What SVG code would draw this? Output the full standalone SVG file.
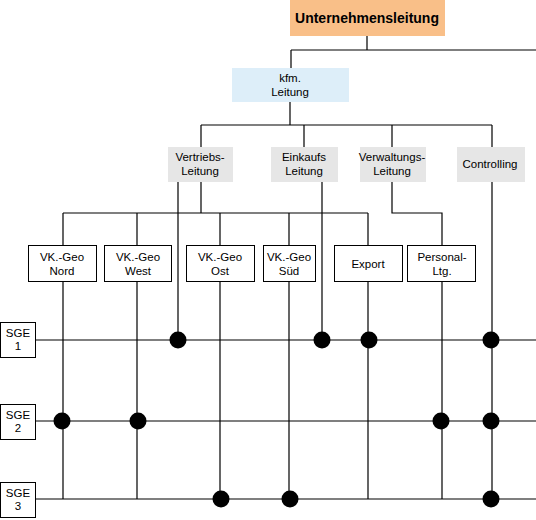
<svg xmlns="http://www.w3.org/2000/svg" width="536" height="520" viewBox="0 0 536 520">
<style>
.ln{stroke:#000;stroke-width:1.2;fill:none}
.bx{fill:#fff;stroke:#000;stroke-width:1}
.gr{fill:#e6e6e6}
.t{font-family:"Liberation Sans",Arial,sans-serif;font-size:11.5px;fill:#000;text-anchor:middle}
.dot{fill:#000}
</style>
<rect width="536" height="520" fill="#fff"/>
<g id="connectors">
<path class="ln" d="M367,36V50M291,50H536M291,50V68"/>
<path class="ln" d="M290,102V125M201,125H492M201,125V147M304,125V147M392,125V147M492,125V147"/>
<path class="ln" d="M201,182V213M63,213H368M63,213V245M137,213V245M220,213V245M289,213V245M368,213V245"/>
<path class="ln" d="M392,182V213H442V245"/>
<path class="ln" d="M178,182V340M322,182V340M492,182V499"/>
<path class="ln" d="M63,281V499M137,281V499M220,281V499M289,281V499M368,281V499M442,281V499"/>
<path class="ln" d="M36,340H536M36,421H536M36,499H536"/>
</g>
<g id="dots">
<circle class="dot" cx="178" cy="340" r="8.5"/>
<circle class="dot" cx="322" cy="340" r="8.5"/>
<circle class="dot" cx="369" cy="340" r="8.5"/>
<circle class="dot" cx="491" cy="340" r="8.5"/>
<circle class="dot" cx="62" cy="421" r="8.5"/>
<circle class="dot" cx="138" cy="421" r="8.5"/>
<circle class="dot" cx="441" cy="421" r="8.5"/>
<circle class="dot" cx="491" cy="421" r="8.5"/>
<circle class="dot" cx="221" cy="499" r="8.5"/>
<circle class="dot" cx="290" cy="499" r="8.5"/>
<circle class="dot" cx="491" cy="499" r="8.5"/>
</g>
<g id="unternehmensleitung">
<rect x="290" y="0" width="155" height="36" fill="#f9bf88"/>
<text class="t" x="367" y="23" style="font-size:14px;font-weight:bold">Unternehmensleitung</text>
</g>
<g id="kfm-leitung">
<rect x="232" y="68" width="117" height="34" fill="#ddeef9"/>
<text class="t" x="290" y="82">kfm.</text>
<text class="t" x="290" y="96">Leitung</text>
</g>
<g id="vertriebs-leitung">
<rect class="gr" x="168" y="147" width="65" height="35"/>
<text class="t" x="200" y="161">Vertriebs-</text>
<text class="t" x="200" y="175">Leitung</text>
</g>
<g id="einkaufs-leitung">
<rect class="gr" x="271" y="147" width="67" height="35"/>
<text class="t" x="304" y="161">Einkaufs</text>
<text class="t" x="304" y="175">Leitung</text>
</g>
<g id="verwaltungs-leitung">
<rect class="gr" x="360" y="147" width="66" height="35"/>
<text class="t" x="392" y="161">Verwaltungs-</text>
<text class="t" x="392" y="175">Leitung</text>
</g>
<g id="controlling">
<rect class="gr" x="457" y="147" width="68" height="35"/>
<text class="t" x="490" y="168">Controlling</text>
</g>
<g id="vk-nord">
<rect class="bx" x="28.5" y="245.5" width="68" height="36"/>
<text class="t" x="62" y="261">VK.-Geo</text>
<text class="t" x="62" y="275">Nord</text>
</g>
<g id="vk-west">
<rect class="bx" x="104.5" y="245.5" width="67" height="36"/>
<text class="t" x="138" y="261">VK.-Geo</text>
<text class="t" x="138" y="275">West</text>
</g>
<g id="vk-ost">
<rect class="bx" x="186.5" y="245.5" width="68" height="36"/>
<text class="t" x="220" y="261">VK.-Geo</text>
<text class="t" x="220" y="275">Ost</text>
</g>
<g id="vk-sued">
<rect class="bx" x="263.5" y="245.5" width="52" height="36"/>
<text class="t" x="289" y="261">VK.-Geo</text>
<text class="t" x="289" y="275">Süd</text>
</g>
<g id="export">
<rect class="bx" x="334.5" y="245.5" width="68" height="36"/>
<text class="t" x="368" y="268">Export</text>
</g>
<g id="personal">
<rect class="bx" x="407.5" y="245.5" width="68" height="36"/>
<text class="t" x="442" y="261">Personal-</text>
<text class="t" x="442" y="275">Ltg.</text>
</g>
<g id="sge1">
<rect class="bx" x="0.5" y="322.5" width="35" height="35"/>
<text class="t" x="18" y="337">SGE</text>
<text class="t" x="18" y="350">1</text>
</g>
<g id="sge2">
<rect class="bx" x="0.5" y="404.5" width="35" height="35"/>
<text class="t" x="18" y="419">SGE</text>
<text class="t" x="18" y="432">2</text>
</g>
<g id="sge3">
<rect class="bx" x="0.5" y="482.5" width="35" height="35"/>
<text class="t" x="18" y="497">SGE</text>
<text class="t" x="18" y="510">3</text>
</g>
</svg>
